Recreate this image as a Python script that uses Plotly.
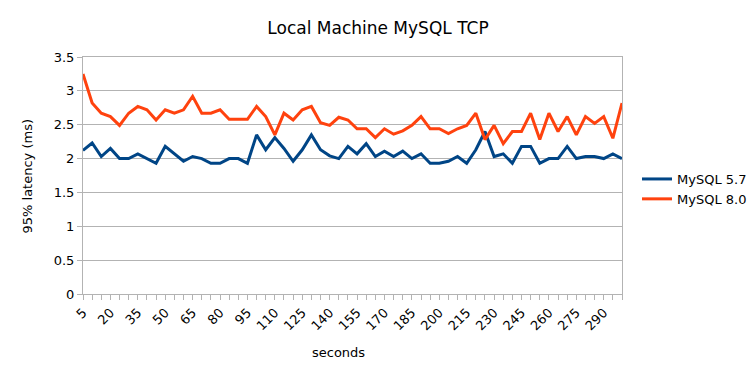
import plotly.graph_objects as go

seconds = list(range(5, 305, 5))

mysql57 = [2.12, 2.23, 2.03, 2.15, 2.00, 2.00, 2.07, 2.00, 1.93, 2.18,
           2.07, 1.96, 2.03, 2.00, 1.93, 1.93, 2.00, 2.00, 1.93, 2.35,
           2.13, 2.31, 2.15, 1.96, 2.13, 2.35, 2.13, 2.04, 2.00, 2.18,
           2.07, 2.22, 2.03, 2.11, 2.03, 2.11, 2.00, 2.07, 1.93, 1.93,
           1.96, 2.03, 1.93, 2.13, 2.40, 2.03, 2.07, 1.93, 2.18, 2.18,
           1.93, 2.00, 2.00, 2.18, 2.00, 2.03, 2.03, 2.00, 2.07, 2.00]

mysql80 = [3.25, 2.82, 2.67, 2.62, 2.49, 2.67, 2.77, 2.72, 2.57, 2.72,
           2.67, 2.72, 2.92, 2.67, 2.67, 2.72, 2.58, 2.58, 2.58, 2.77,
           2.62, 2.35, 2.67, 2.57, 2.72, 2.77, 2.53, 2.49, 2.61, 2.57,
           2.44, 2.44, 2.31, 2.44, 2.36, 2.41, 2.49, 2.62, 2.44, 2.44,
           2.37, 2.44, 2.49, 2.67, 2.28, 2.49, 2.22, 2.40, 2.40, 2.67,
           2.28, 2.67, 2.40, 2.62, 2.35, 2.62, 2.52, 2.62, 2.30, 2.82]

label_every = 3
tick_text = [str(s) if i % label_every == 0 else "" for i, s in enumerate(seconds)]

FONT = "DejaVu Sans"

fig = go.Figure()
fig.add_trace(go.Scatter(x=seconds, y=mysql57, mode="lines", name="MySQL 5.7",
                         line=dict(color="#004586", width=3)))
fig.add_trace(go.Scatter(x=seconds, y=mysql80, mode="lines", name="MySQL 8.0",
                         line=dict(color="#ff420e", width=3)))

fig.update_layout(
    width=756, height=378,
    margin=dict(l=83, r=134, t=57, b=84),
    paper_bgcolor="white", plot_bgcolor="white",
    font=dict(family=FONT, size=13, color="black"),
    title=dict(text="Local Machine MySQL TCP", x=0.5, xanchor="center",
               y=1 - 28 / 378, yanchor="middle",
               font=dict(family=FONT, size=17, color="black")),
    showlegend=True,
    legend=dict(xref="container", yref="container",
                x=637 / 756, xanchor="left", y=1 - 189 / 378, yanchor="middle",
                font=dict(family=FONT, size=13, color="black"),
                bgcolor="rgba(0,0,0,0)", tracegroupgap=0),
    xaxis=dict(range=[seconds[0], seconds[-1]], tickmode="array",
               tickvals=seconds, ticktext=tick_text, tickangle=-45,
               ticks="outside", ticklen=5, tickcolor="#b3b3b3",
               showline=True, linecolor="#b3b3b3", linewidth=1, mirror=True,
               showgrid=False, zeroline=False,
               tickfont=dict(family=FONT, size=13, color="black")),
    yaxis=dict(range=[0, 3.5], dtick=0.5, tick0=0,
               ticks="outside", ticklen=5, tickcolor="#b3b3b3",
               showline=True, linecolor="#b3b3b3", linewidth=1, mirror=True,
               showgrid=True, gridcolor="#b3b3b3", gridwidth=1, zeroline=False,
               tickfont=dict(family=FONT, size=13, color="black")),
    annotations=[
        dict(text="seconds", xref="paper", yref="paper", x=(338 - 83) / 539,
             y=-(352 - 294) / 237, xanchor="center", yanchor="middle",
             showarrow=False, font=dict(family=FONT, size=13, color="black")),
        dict(text="95% latency (ms)", xref="paper", yref="paper",
             x=-(83 - 27) / 539, y=0.5, xanchor="center", yanchor="middle",
             textangle=-90, showarrow=False,
             font=dict(family=FONT, size=13, color="black")),
    ],
)

fig.write_html("out.html", config={"displayModeBar": False},
               post_script="document.body.style.margin='0';document.body.style.overflow='hidden';")
